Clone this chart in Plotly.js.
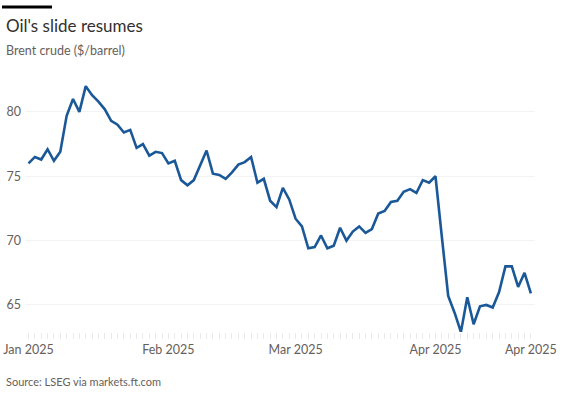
<!DOCTYPE html>
<html>
<head>
<meta charset="utf-8">
<script src="https://cdn.plot.ly/plotly-3.0.1.min.js"></script>
<style>
html,body{margin:0;padding:0;background:#ffffff;}
#chart{width:570px;height:399px;}
</style>
</head>
<body>
<div id="chart"></div>
<script>
// Trading days (weekdays) from 2 Jan 2025 to 23 Apr 2025
const dates = [
  "2025-01-02","2025-01-03","2025-01-06","2025-01-07","2025-01-08","2025-01-09","2025-01-10",
  "2025-01-13","2025-01-14","2025-01-15","2025-01-16","2025-01-17",
  "2025-01-20","2025-01-21","2025-01-22","2025-01-23","2025-01-24",
  "2025-01-27","2025-01-28","2025-01-29","2025-01-30","2025-01-31",
  "2025-02-03","2025-02-04","2025-02-05","2025-02-06","2025-02-07",
  "2025-02-10","2025-02-11","2025-02-12","2025-02-13","2025-02-14",
  "2025-02-17","2025-02-18","2025-02-19","2025-02-20","2025-02-21",
  "2025-02-24","2025-02-25","2025-02-26","2025-02-27","2025-02-28",
  "2025-03-03","2025-03-04","2025-03-05","2025-03-06","2025-03-07",
  "2025-03-10","2025-03-11","2025-03-12","2025-03-13","2025-03-14",
  "2025-03-17","2025-03-18","2025-03-19","2025-03-20","2025-03-21",
  "2025-03-24","2025-03-25","2025-03-26","2025-03-27","2025-03-28",
  "2025-03-31","2025-04-01","2025-04-02","2025-04-03","2025-04-04",
  "2025-04-07","2025-04-08","2025-04-09","2025-04-10","2025-04-11",
  "2025-04-14","2025-04-15","2025-04-16","2025-04-17","2025-04-18",
  "2025-04-21","2025-04-22","2025-04-23"
];
// Brent crude, $/barrel
const brent = [
  76.0, 76.5, 76.3, 77.1, 76.2, 76.9, 79.7,
  81.0, 80.0, 82.0, 81.3, 80.8,
  80.2, 79.3, 79.0, 78.4, 78.6,
  77.2, 77.5, 76.6, 76.9,
  76.8, 76.0, 76.2, 74.7, 74.3,
  74.7, 75.9, 77.0, 75.2, 75.1,
  74.8, 75.3, 75.9, 76.1, 76.5,
  74.5, 74.8, 73.1, 72.6, 74.1,
  73.2, 71.7, 71.1, 69.4, 69.5,
  70.4, 69.4, 69.6, 71.0, 70.0,
  70.7, 71.1, 70.6, 70.9, 72.1,
  72.3, 73.0, 73.1, 73.8, 74.0,
  73.7, 74.7, 74.5, 75.0, 70.3,
  65.7, 64.4, 62.9, 65.6, 63.5,
  64.9, 65.0, 64.8, 66.0, 68.0,
  68.0, 66.4, 67.5, 65.9
];
const tickDates = ["2025-01-02","2025-02-03","2025-03-03","2025-04-02","2025-04-23"];
const tickText = ["Jan 2025","Feb 2025","Mar 2025","Apr 2025","Apr 2025"];
const yTicks = [65,70,75,80];

const trace = {
  x: dates, y: brent, type: "scatter", mode: "lines",
  line: {color: "#1b5898", width: 2.6},
  hoverinfo: "skip"
};

const FONT = "Lato, 'Noto Sans', sans-serif";
const W = 570, H = 399;
const m = {l: 25, r: 35, t: 81, b: 67};
const pw = W - m.l - m.r, ph = H - m.t - m.b;
const px = v => (v - m.l) / pw;
const py = v => 1 - (v - m.t) / ph;

const layout = {
  width: W, height: H,
  margin: m,
  paper_bgcolor: "#ffffff",
  plot_bgcolor: "#ffffff",
  showlegend: false,
  font: {family: FONT, color: "#66605c", size: 12},
  xaxis: {
    type: "category",
    range: [-0.55, dates.length - 1 + 0.65],
    tickmode: "array",
    tickvals: tickDates,
    ticktext: tickText,
    showgrid: false, zeroline: false, showline: false,
    ticks: "",
    tickfont: {family: FONT, size: 12.5, color: "#66605c"},
    ticklabelstandoff: 8,
    minor: {ticks: "outside", ticklen: 6, tickcolor: "#e9e9e9", tickwidth: 1, tickmode: "array", tickvals: dates, showgrid: false},
    fixedrange: true
  },
  yaxis: {
    range: [62.9, 82.4],
    tickmode: "array",
    tickvals: yTicks,
    showgrid: true, gridcolor: "#f3f3f3", gridwidth: 1,
    zeroline: false, showline: false,
    ticks: "", ticklabelstandoff: 3,
    tickfont: {family: FONT, size: 12.5, color: "#66605c"},
    fixedrange: true
  },
  shapes: [{
    type: "rect", xref: "paper", yref: "paper",
    x0: px(2), x1: px(52), y0: py(8.5), y1: py(5.5),
    fillcolor: "#000000", line: {width: 0}
  }],
  annotations: [
    {text: "Oil's slide resumes", xref: "paper", yref: "paper", x: px(4), y: py(26), xanchor: "left", yanchor: "middle",
     showarrow: false, font: {family: FONT, size: 17, color: "#33302e"}},
    {text: "Brent crude ($/barrel)", xref: "paper", yref: "paper", x: px(4), y: py(50.5), xanchor: "left", yanchor: "middle",
     showarrow: false, font: {family: FONT, size: 12.5, color: "#66605c"}},
    {text: "Source: LSEG via markets.ft.com", xref: "paper", yref: "paper", x: px(4), y: py(381), xanchor: "left", yanchor: "middle",
     showarrow: false, font: {family: FONT, size: 11, color: "#66605c"}}
  ]
};

Plotly.newPlot("chart", [trace], layout, {displayModeBar: false, staticPlot: true});
</script>
</body>
</html>
